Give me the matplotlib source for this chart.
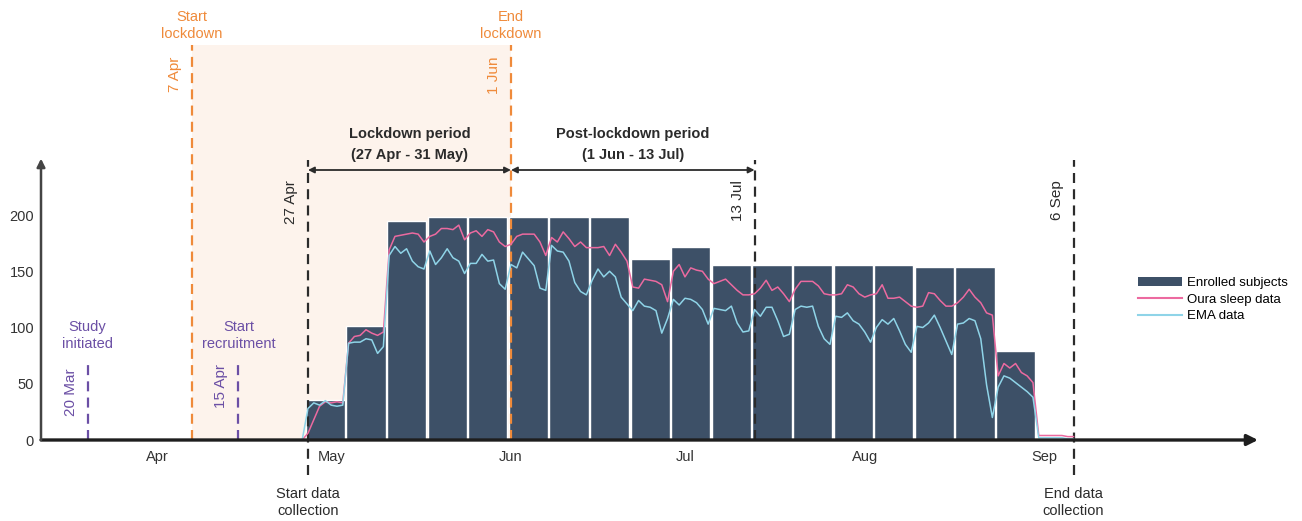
import numpy as np
import pandas as pd
import matplotlib
matplotlib.use("Agg")
import matplotlib.pyplot as plt
import matplotlib.dates as mdates
from matplotlib.patches import Rectangle, Patch
from matplotlib.lines import Line2D

plt.rcParams['font.family'] = ['Liberation Sans', 'DejaVu Sans']

# ---- data -------------------------------------------------------------
week_starts = pd.date_range("2020-04-27", periods=18, freq="7D")
enrolled = [36, 101, 195, 198, 198, 198, 198, 198, 161, 172,
            156, 156, 156, 156, 156, 154, 154, 79]

days = pd.date_range("2020-04-26", "2020-09-06", freq="D")
oura = [0, 6, 18, 30, 34, 33, 34, 33,
        86, 92, 93, 98, 95, 93, 96,
        169, 181, 182, 183, 184, 183, 176,
        181, 183, 188, 188, 187, 191, 178,
        184, 186, 181, 187, 185, 176, 172,
        174, 181, 183, 183, 183, 176, 164,
        180, 176, 185, 179, 172, 176, 171,
        171, 171, 172, 164, 174, 167, 159,
        136, 135, 143, 142, 141, 138, 123,
        150, 156, 145, 153, 151, 150, 143,
        139, 141, 143, 138, 133, 129, 129,
        130, 135, 142, 133, 136, 130, 123,
        134, 141, 141, 141, 137, 130, 129,
        129, 130, 138, 136, 130, 127, 129,
        130, 138, 126, 126, 127, 123, 119,
        118, 119, 131, 130, 124, 119, 119,
        122, 127, 134, 127, 122, 113, 111,
        57, 68, 64, 68, 60, 57, 51,
        4, 4, 4, 4, 4, 3, 3]
ema = [0, 28, 33, 31, 35, 31, 30, 31,
       86, 87, 87, 90, 89, 77, 83,
       164, 172, 166, 170, 159, 154, 152,
       168, 156, 162, 170, 162, 159, 148,
       157, 157, 165, 159, 160, 139, 134,
       156, 153, 167, 161, 155, 135, 133,
       173, 168, 167, 159, 140, 132, 129,
       142, 152, 145, 150, 145, 127, 121,
       115, 124, 119, 118, 115, 95, 108,
       125, 120, 126, 125, 122, 116, 103,
       117, 116, 115, 119, 104, 96, 97,
       116, 110, 118, 118, 106, 92, 94,
       116, 119, 118, 119, 101, 90, 85,
       110, 109, 113, 106, 103, 96, 87,
       100, 107, 103, 108, 97, 85, 78,
       101, 100, 104, 111, 100, 88, 76,
       103, 104, 108, 106, 90, 49, 20,
       47, 57, 55, 51, 47, 43, 38,
       2, 2, 2, 2, 2, 1, 1]

month_ticks = pd.date_range("2020-04-01", "2020-09-01", freq="MS")
month_labels = ["Apr", "May", "Jun", "Jul", "Aug", "Sep"]
y_ticks = [0, 50, 100, 150, 200]

d_study = pd.Timestamp("2020-03-20")
d_recruit = pd.Timestamp("2020-04-15")
d_lock_start = pd.Timestamp("2020-04-07")
d_lock_end = pd.Timestamp("2020-06-01")
d_collect_start = pd.Timestamp("2020-04-27")
d_post_end = pd.Timestamp("2020-07-13")
d_collect_end = pd.Timestamp("2020-09-06")

# ---- styling ----------------------------------------------------------
BAR = "#3D5067"
PINK = "#EC6AA0"
BLUE = "#8FD4E8"
ORANGE = "#EF8A3A"
PURPLE = "#6B4FA5"
DARK = "#2B2B2B"
SHADE = "#FDF3EC"

W, H = 1302, 521
fig = plt.figure(figsize=(W / 100, H / 100), dpi=100)
ax = fig.add_axes([41 / W, 81 / H, 1217 / W, 280 / H])

n = mdates.date2num
x0 = n(d_collect_start)
ax.set_xlim(x0 - 46.03, x0 + 163.8)
ax.set_ylim(0, 248.9)
ppu = 280 / 248.9          # pixels per y unit
ppd = 1217 / (46.03 + 163.8)  # pixels per day


def yrow(r):
    """Convert a pixel row (from the top of the figure) to a y value."""
    return (440 - r) / ppu


for s in ax.spines.values():
    s.set_visible(False)

# lockdown shading
ax.add_patch(Rectangle((n(d_lock_start), 0), n(d_lock_end) - n(d_lock_start),
                       yrow(45), facecolor=SHADE, edgecolor="none",
                       zorder=0, clip_on=False))

# weekly enrolment bars
ax.bar(n(week_starts) + 3, enrolled, width=6.75, color=BAR,
       edgecolor="white", linewidth=1.0, zorder=2)

# daily data lines
ax.plot(n(days), oura, color=PINK, lw=1.1, zorder=4)
ax.plot(n(days), ema, color=BLUE, lw=1.1, zorder=4)

# axes arrows
ax.annotate("", xy=(1, 0), xytext=(0, 0), xycoords="axes fraction",
            arrowprops=dict(arrowstyle="-|>", lw=2.4, color="#1E1E1E",
                            mutation_scale=16, shrinkA=0, shrinkB=0),
            annotation_clip=False, zorder=6)
ax.annotate("", xy=(0, 1.005), xytext=(0, 0), xycoords="axes fraction",
            arrowprops=dict(arrowstyle="-|>", lw=1.8, color="#444444",
                            mutation_scale=12, shrinkA=0, shrinkB=0),
            annotation_clip=False, zorder=6)

# vertical event lines
dash = (0, (4.5, 2.8))
events = [
    (d_study, 0, yrow(365), PURPLE),
    (d_recruit, 0, yrow(365), PURPLE),
    (d_lock_start, 0, yrow(45), ORANGE),
    (d_lock_end, 0, yrow(45), ORANGE),
    (d_collect_start, yrow(475), yrow(160), DARK),
    (d_post_end, 0, yrow(160), DARK),
    (d_collect_end, yrow(475), yrow(160), DARK),
]
for d, ya, yb, c in events:
    ax.plot([n(d), n(d)], [ya, yb], color=c, lw=1.6, linestyle=dash,
            clip_on=False, zorder=3)

# rotated date labels
off = 17 / ppd
rot_labels = [
    (d_study, "20 Mar", 368, PURPLE),
    (d_recruit, "15 Apr", 364, PURPLE),
    (d_lock_start, "7 Apr", 57, ORANGE),
    (d_lock_end, "1 Jun", 57, ORANGE),
    (d_collect_start, "27 Apr", 180, DARK),
    (d_post_end, "13 Jul", 180, DARK),
    (d_collect_end, "6 Sep", 180, DARK),
]
for d, t, r, c in rot_labels:
    ax.text(n(d) - off, yrow(r), t, rotation=90, ha="center", va="top",
            fontsize=11, color=c, clip_on=False)

# event descriptions
desc = [
    (d_study, "Study\ninitiated", 335.5, PURPLE),
    (d_recruit, "Start\nrecruitment", 335.5, PURPLE),
    (d_lock_start, "Start\nlockdown", 25.5, ORANGE),
    (d_lock_end, "End\nlockdown", 25.5, ORANGE),
    (d_collect_start, "Start data\ncollection", 502.5, DARK),
    (d_collect_end, "End data\ncollection", 502.5, DARK),
]
for d, t, r, c in desc:
    ax.text(n(d), yrow(r), t, ha="center", va="center", fontsize=10.5,
            color=c, linespacing=1.3, clip_on=False)

# period arrows
ya = yrow(170)
for a, b, t1, t2 in [(d_collect_start, d_lock_end, "Lockdown period", "(27 Apr - 31 May)"),
                     (d_lock_end, d_post_end, "Post-lockdown period", "(1 Jun - 13 Jul)")]:
    ax.annotate("", xy=(n(b), ya), xytext=(n(a), ya),
                arrowprops=dict(arrowstyle="<|-|>", lw=1.3, color=DARK,
                                mutation_scale=9, shrinkA=0, shrinkB=0),
                annotation_clip=False, zorder=5)
    xm = (n(a) + n(b)) / 2
    ax.text(xm, yrow(134), t1, ha="center", va="center", fontsize=10.5,
            fontweight="bold", color=DARK, clip_on=False)
    ax.text(xm, yrow(155), t2, ha="center", va="center", fontsize=10.5,
            fontweight="bold", color=DARK, clip_on=False)

# ticks
ax.set_xticks(n(month_ticks))
ax.set_xticklabels(month_labels)
ax.set_yticks(y_ticks)
ax.tick_params(axis="both", length=0, labelsize=10.5, colors="#333333")
ax.tick_params(axis="x", pad=7)
ax.tick_params(axis="y", pad=5)

# legend
handles = [Patch(facecolor=BAR, edgecolor="none"),
           Line2D([], [], color=PINK, lw=1.5),
           Line2D([], [], color=BLUE, lw=1.5)]
fig.legend(handles, ["Enrolled subjects", "Oura sleep data", "EMA data"],
           loc="upper left", bbox_to_anchor=(1138 / W, 1 - 277 / H),
           frameon=False, fontsize=9.5, handlelength=3.3, handleheight=0.7,
           handletextpad=0.4, labelspacing=0.32, borderpad=0,
           borderaxespad=0)

fig.savefig("out.png", dpi=100)
